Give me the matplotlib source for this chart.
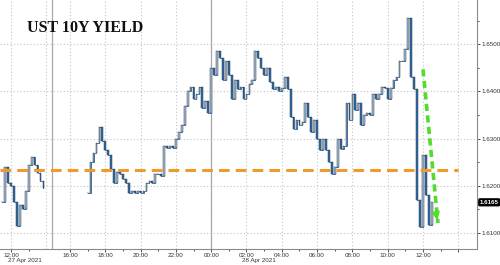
import numpy as np
import matplotlib.pyplot as plt

# ---- data (UST 10Y yield, 10-minute bars, closes) ----
bar_step = 10 / 60          # hours
gap_hours = 0.66            # overnight hole squeezed out of the time axis
chart_zero = 16.0           # 27 Apr 16:00 sits at x = 0

seg1_start = 11.5           # 27 Apr 11:30
seg1_close = [1.6165, 1.6240, 1.6205, 1.6200, 1.6165, 1.6115, 1.6160, 1.6150,
              1.6190, 1.6245, 1.6262, 1.6245, 1.6228, 1.6210, 1.6195]

seg2_start = 17.0           # 27 Apr 17:00, runs into 28 Apr
seg2_close = [1.6185, 1.6250, 1.6270, 1.6290, 1.6325, 1.6295, 1.6275, 1.6265,
              1.6235, 1.6205, 1.6230, 1.6225, 1.6215, 1.6205, 1.6185, 1.6188,
              1.6185, 1.6190, 1.6185, 1.6188, 1.6205, 1.6210, 1.6205, 1.6225,
              1.6225, 1.6220, 1.6285, 1.6280, 1.6285, 1.6280, 1.6300, 1.6315,
              1.6330, 1.6370, 1.6400, 1.6410, 1.6385, 1.6395, 1.6410, 1.6365,
              1.6380, 1.6355, 1.6450, 1.6435, 1.6485, 1.6470, 1.6425, 1.6465,
              1.6435, 1.6385, 1.6425, 1.6405, 1.6410, 1.6385, 1.6395, 1.6415,
              1.6425, 1.6485, 1.6470, 1.6450, 1.6435, 1.6450, 1.6420, 1.6405,
              1.6410, 1.6400, 1.6408, 1.6430, 1.6405, 1.6345, 1.6320, 1.6340,
              1.6330, 1.6335, 1.6375, 1.6345, 1.6315, 1.6340, 1.6300, 1.6275,
              1.6300, 1.6275, 1.6250, 1.6225, 1.6240, 1.6300, 1.6277, 1.6285,
              1.6375, 1.6340, 1.6395, 1.6360, 1.6375, 1.6330, 1.6350, 1.6355,
              1.6350, 1.6395, 1.6385, 1.6395, 1.6410, 1.6408, 1.6385, 1.6408,
              1.6425, 1.6430, 1.6465, 1.6465, 1.6490, 1.6555, 1.6430, 1.6405,
              1.6170, 1.6113, 1.6265, 1.6180, 1.6117, 1.6165]

last_price = 1.6165
ref_level = 1.6234
ref_end = 22.0              # chart hours where the orange line stops
arrow_from = (20.0, 1.6447)
arrow_to = (20.85, 1.6121)

tick_hours = [12, 16, 18, 20, 22, 24, 26, 28, 30, 32, 34, 36, 38]
tick_text = ['12:00', '16:00', '18:00', '20:00', '22:00', '00:00', '02:00',
             '04:00', '06:00', '08:00', '10:00', '12:00', '']
session_break = 14.32       # hour on 27 Apr where the squeezed gap sits
day_break = 24

small = dict(family='Liberation Sans', size=4.5, color='#333333')


def to_chart(h):
    """real hour (from 27 Apr 00:00) -> chart x, squeezing the gap"""
    h = np.asarray(h, dtype=float)
    return np.where(h < 16, h - chart_zero + gap_hours, h - chart_zero)


def draw_bars(ax, start, closes):
    closes = np.asarray(closes)
    x = to_chart(start + bar_step * np.arange(len(closes)))
    opens = np.r_[closes[0], closes[:-1]]
    up = closes >= opens
    ax.step(x, closes, where='post', color='#4a7fb5', lw=0.7, zorder=3)
    ax.bar(x, closes - opens, bottom=opens, width=bar_step * 0.6,
           color=np.where(up, '#a9bccf', '#2e6aa8'), edgecolor='#2d3e52',
           linewidth=0.35, zorder=4)


fig = plt.figure(figsize=(5.0, 2.65), dpi=100)
ax = fig.add_axes([0.0, 16 / 265, 477 / 500, 249 / 265])

draw_bars(ax, seg1_start, seg1_close)
draw_bars(ax, seg2_start, seg2_close)

ax.set_xlim(-3.966, 23.06)
ax.set_ylim(1.6066, 1.6594)

# grid
for yv in np.arange(1.61, 1.6501, 0.01):
    ax.axhline(yv, color='#c4c4c4', lw=0.8, ls=(0, (1, 2)), zorder=1)
for h in tick_hours + [14]:
    ax.axvline(float(to_chart(h)), color='#c4c4c4', lw=0.8, ls=(0, (1, 2)), zorder=1)
for h in (session_break, day_break):
    ax.axvline(float(to_chart(h)), color='#a8a8a8', lw=0.9, zorder=1)

# orange reference level and green arrow
ax.plot([-3.966, ref_end], [ref_level, ref_level], color='#ef9a2e', lw=2.2,
        ls=(0, (3.5, 2)), zorder=5)
ax.plot([arrow_from[0], arrow_to[0]], [arrow_from[1], arrow_to[1]],
        color='#52dd2c', lw=2.6, ls=(0, (2, 1.2)), zorder=6)
ax.annotate('', xy=arrow_to,
            xytext=(arrow_to[0] - 0.12, arrow_to[1] + 0.0022),
            arrowprops=dict(arrowstyle='-|>', color='#52dd2c', lw=1.5,
                            mutation_scale=11), zorder=6)

# axes cosmetics
for s in ('top', 'left'):
    ax.spines[s].set_visible(False)
for s in ('right', 'bottom'):
    ax.spines[s].set_color('#8a8a8a')
    ax.spines[s].set_linewidth(0.8)

yt = np.arange(1.61, 1.6501, 0.01)
ax.yaxis.tick_right()
ax.set_yticks(yt)
ax.set_yticklabels([f'{v:.4f}' for v in yt], fontdict=small)
ax.set_yticks(np.arange(1.61, 1.6551, 0.005), minor=True)
ax.tick_params(axis='y', which='both', direction='out', colors='#333333',
               length=2, width=0.6, pad=1.0)
ax.tick_params(axis='y', which='minor', length=1.5)

ax.set_xticks(to_chart(tick_hours))
ax.set_xticklabels(tick_text, fontdict=small)
ax.set_xticks(to_chart([13] + list(range(17, 38, 2))), minor=True)
ax.tick_params(axis='x', which='both', direction='out', colors='#333333',
               length=2, width=0.6, pad=1.0)
ax.tick_params(axis='x', which='minor', length=1.5)

# date labels under the first tick of each day
for h, lab in ((12.8, '27 Apr 2021'), (26.7, '28 Apr 2021')):
    ax.text(float(to_chart(h)), -0.048, lab, transform=ax.get_xaxis_transform(),
            ha='center', va='center', fontdict=small)

# last price tag
ax.annotate(f'{last_price:.4f}', xy=(1.0, last_price), xycoords=('axes fraction', 'data'),
            xytext=(2.0, 0), textcoords='offset points', ha='left', va='center',
            family='Liberation Sans', fontsize=4.4, color='white', fontweight='bold',
            bbox=dict(boxstyle='round,pad=0.15', fc='black', ec='black'),
            annotation_clip=False)

fig.text(27 / 500, 1 - 28 / 265, 'UST 10Y YIELD', fontsize=11.5, fontweight='bold',
         family='Liberation Serif', ha='left', va='center', color='#111111')

fig.savefig('out.png', dpi=100)
